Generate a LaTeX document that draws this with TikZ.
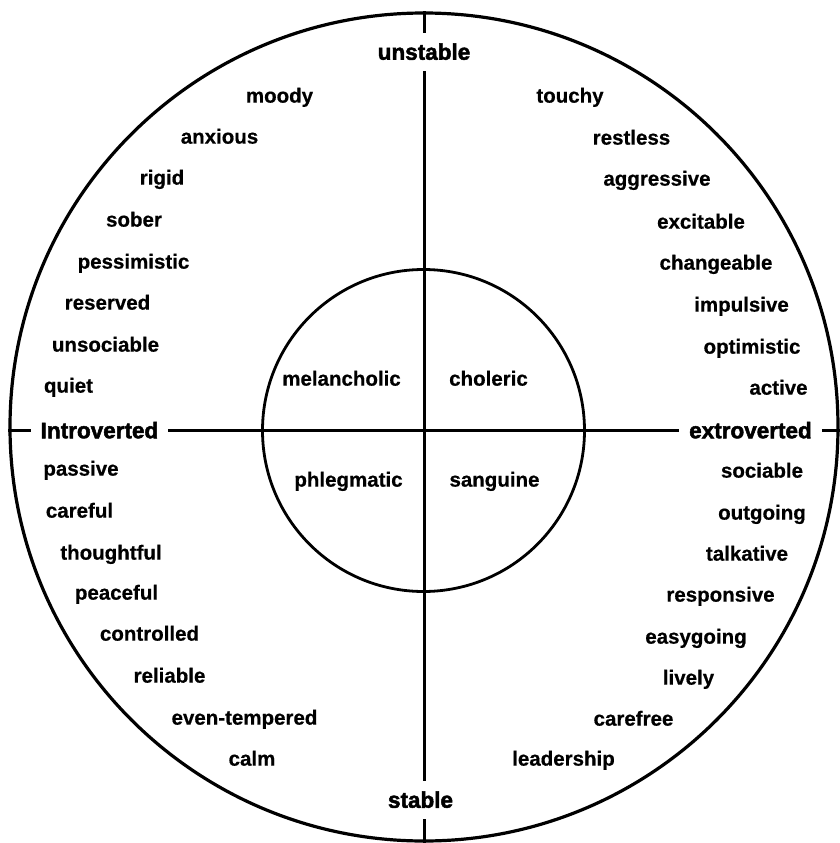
\documentclass[tikz,border=0pt]{standalone}
\usepackage{fontspec}
\setmainfont{Liberation Sans}
\newfontface\traitface{Liberation Sans Bold}[FakeBold=0.6]
\newfontface\heavyface{Liberation Sans Bold}[FakeBold=2.2]
\usetikzlibrary{positioning}
\newcommand\traitfont{\traitface\fontsize{20.5}{24}\selectfont}
\newcommand\axisfont{\heavyface\fontsize{22.5}{26}\selectfont}
\tikzset{
  trait/.style={font=\traitfont, inner sep=0pt, anchor=mid},
  axislabel/.style={font=\axisfont, inner xsep=10pt, inner ysep=7pt, text height=20pt, text depth=4.5pt},
  ring/.style={circle, draw, line width=3.2pt, inner sep=0pt},
  axis/.style={line width=3pt},
}

\begin{document}
\begin{tikzpicture}[x=1pt, y=-1pt]
    \useasboundingbox (0,0) rectangle (839,843);
    \node[ring, minimum size=828pt] (rim) at (424,427) {};
    \node[ring, minimum size=322pt, line width=2.8pt] (core) at (423.5,430.5) {};
    % axis labels
    \node[axislabel] (unstable) at (424,52) {unstable};
    \node[axislabel] (stable) at (420.5,800) {stable};
    \node[axislabel] (intro) at (99.5,430.5) {Introverted};
    \node[axislabel] (extro) at (750.5,430.5) {extroverted};
    \draw[axis] (rim.north) -- (unstable.north);
    \draw[axis] (unstable.south) -- (unstable.south |- stable.north);
    \draw[axis] (stable.south -| rim.south) -- (rim.south);
    \draw[axis] (intro.west -| rim.west) -- (intro.west);
    \draw[axis] (intro.east) -- (extro.west);
    \draw[axis] (extro.east) -- (extro.east -| rim.east);
    % temperaments
    \node[trait] (melancholic) at (341.5,383) {melancholic};
    \node[trait] (choleric) at (488.5,383) {choleric};
    \node[trait] (phlegmatic) at (348.5,484) {phlegmatic};
    \node[trait] (sanguine) at (494.5,484) {sanguine};
    % unstable, introverted
    \node[trait] (moody) at (279.5,100) {moody};
    \node[trait] (anxious) at (219.5,141) {anxious};
    \node[trait] (rigid) at (162,182) {rigid};
    \node[trait] (sober) at (134,224) {sober};
    \node[trait] (pessimistic) at (133.5,266) {pessimistic};
    \node[trait] (reserved) at (107.5,307) {reserved};
    \node[trait] (unsociable) at (105.5,349) {unsociable};
    \node[trait] (quiet) at (68.5,390) {quiet};
    % stable, introverted
    \node[trait] (passive) at (81,473) {passive};
    \node[trait] (careful) at (79.5,515) {careful};
    \node[trait] (thoughtful) at (111,557) {thoughtful};
    \node[trait] (peaceful) at (116.5,597) {peaceful};
    \node[trait] (controlled) at (149.5,638) {controlled};
    \node[trait] (reliable) at (169.5,680) {reliable};
    \node[trait] (eventempered) at (244.5,722) {even-tempered};
    \node[trait] (calm) at (252,763) {calm};
    % unstable, extroverted
    \node[trait] (touchy) at (570,100) {touchy};
    \node[trait] (restless) at (631.5,142) {restless};
    \node[trait] (aggressive) at (657,183) {aggressive};
    \node[trait] (excitable) at (701,226) {excitable};
    \node[trait] (changeable) at (716,267) {changeable};
    \node[trait] (impulsive) at (741.5,309) {impulsive};
    \node[trait] (optimistic) at (752,351) {optimistic};
    \node[trait] (active) at (778.5,392) {active};
    % stable, extroverted
    \node[trait] (sociable) at (762,475) {sociable};
    \node[trait] (outgoing) at (762,517) {outgoing};
    \node[trait] (talkative) at (747,558) {talkative};
    \node[trait] (responsive) at (720.5,599) {responsive};
    \node[trait] (easygoing) at (696,641) {easygoing};
    \node[trait] (lively) at (688.5,682) {lively};
    \node[trait] (carefree) at (633.5,723) {carefree};
    \node[trait] (leadership) at (563.5,763) {leadership};
\end{tikzpicture}
\end{document}
